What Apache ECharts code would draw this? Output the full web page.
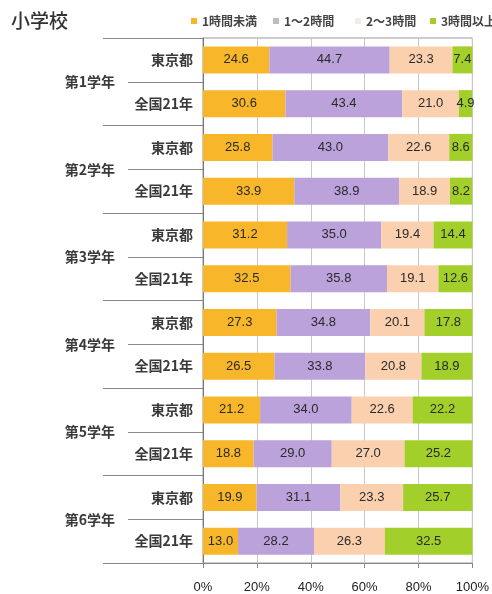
<!DOCTYPE html>
<html>
<head>
<meta charset="utf-8">
<script src="https://cdn.jsdelivr.net/npm/echarts@6/dist/echarts.min.js"></script>
<style>
  html, body { margin: 0; padding: 0; background: #fff; }
  #chart { width: 492px; height: 594px; }
</style>
</head>
<body>
<div id="chart"></div>
<script>
// Study time per day, elementary school grades: Tokyo vs national survey
const grades = ['第1学年', '第2学年', '第3学年', '第4学年', '第5学年', '第6学年'];
const rows = ['東京都', '全国21年', '東京都', '全国21年', '東京都', '全国21年',
              '東京都', '全国21年', '東京都', '全国21年', '東京都', '全国21年'];
const seriesNames = ['1時間未満', '1～2時間', '2～3時間', '3時間以上'];

const lessThan1h = [24.6, 30.6, 25.8, 33.9, 31.2, 32.5, 27.3, 26.5, 21.2, 18.8, 19.9, 13.0];
const from1to2h  = [44.7, 43.4, 43.0, 38.9, 35.0, 35.8, 34.8, 33.8, 34.0, 29.0, 31.1, 28.2];
const from2to3h  = [23.3, 21.0, 22.6, 18.9, 19.4, 19.1, 20.1, 20.8, 22.6, 27.0, 23.3, 26.3];
const over3h     = [7.4, 4.9, 8.6, 8.2, 14.4, 12.6, 17.8, 18.9, 22.2, 25.2, 25.7, 32.5];

const xTicks = [0, 20, 40, 60, 80, 100];

const barColors = ['#F8B62A', '#BBA2DA', '#FBD0AE', '#A2CF2A'];
const legendIconColors = ['#F8B62A', '#BDBDBD', '#F4ECE4', '#A2CF2A'];
const legendLeft = [186, 268, 350, 425];

const cjk = '"Noto Sans CJK JP", "Noto Sans", sans-serif';
const latin = '"Liberation Sans", Arial, sans-serif';

const values = [lessThan1h, from1to2h, from2to3h, over3h];

const chart = echarts.init(document.getElementById('chart'), null, { renderer: 'canvas' });

chart.setOption({
  animation: false,
  backgroundColor: '#fff',
  title: {
    text: '小学校',
    left: 6,
    top: 6,
    textStyle: { fontFamily: cjk, fontSize: 19, fontWeight: 500, color: '#333' }
  },
  legend: seriesNames.map((name, i) => ({
    data: [{ name: name, itemStyle: { color: legendIconColors[i] } }],
    left: legendLeft[i],
    top: 10,
    itemWidth: 6,
    itemHeight: 6,
    icon: 'rect',
    textStyle: { fontFamily: cjk, fontSize: 12, fontWeight: 'bold', color: '#444' },
    itemGap: 4,
    selectedMode: false
  })),
  grid: {
    left: 203,
    right: 18,
    top: 38,
    bottom: 30,
    show: true,
    borderColor: '#999',
    borderWidth: 1
  },
  xAxis: {
    type: 'value',
    min: xTicks[0],
    max: xTicks[xTicks.length - 1],
    interval: 20,
    axisLine: { show: true, lineStyle: { color: '#888' } },
    axisTick: { show: true, length: 5, lineStyle: { color: '#888' } },
    splitLine: { show: true, lineStyle: { color: '#c8c8c8' } },
    axisLabel: {
      formatter: '{value}%',
      margin: 18,
      fontFamily: latin,
      fontSize: 13,
      color: '#222'
    }
  },
  yAxis: [
    {
      type: 'category',
      data: rows,
      inverse: true,
      position: 'left',
      axisLine: { show: true, lineStyle: { color: '#777' } },
      axisTick: { show: true, length: 75, lineStyle: { color: '#888' } },
      axisLabel: {
        margin: 10,
        fontFamily: cjk,
        fontSize: 14,
        fontWeight: 'bold',
        color: '#3a3a3a'
      }
    },
    {
      type: 'category',
      data: grades,
      inverse: true,
      position: 'left',
      offset: 0,
      axisLine: { show: false },
      axisTick: { show: true, length: 100, lineStyle: { color: '#888' } },
      axisLabel: {
        margin: 88,
        fontFamily: cjk,
        fontSize: 14,
        fontWeight: 'bold',
        color: '#3a3a3a'
      }
    }
  ],
  series: seriesNames.map((name, i) => ({
    name: name,
    type: 'bar',
    stack: 'total',
    yAxisIndex: 0,
    barWidth: 27,
    itemStyle: { color: barColors[i] },
    label: {
      show: true,
      position: 'inside',
      formatter: p => p.value.toFixed(1),
      fontFamily: latin,
      fontSize: 13,
      color: '#2a2a2a'
    },
    data: values[i]
  }))
});
</script>
</body>
</html>
